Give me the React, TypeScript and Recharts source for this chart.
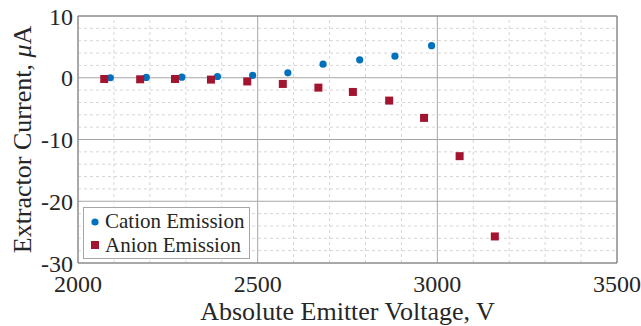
import React from 'react';
import { ScatterChart, Scatter, XAxis, YAxis, CartesianGrid, ReferenceLine, Legend } from 'recharts';

const seriesNames = ['Cation Emission', 'Anion Emission'];
const cationVoltage = [2090, 2190, 2289, 2388, 2486, 2584, 2682, 2784, 2882, 2984];
const cationCurrent = [0.0, 0.05, 0.1, 0.2, 0.4, 0.8, 2.2, 2.9, 3.5, 5.2];
const anionVoltage = [2073, 2173, 2270, 2370, 2471, 2570, 2669, 2765, 2866, 2963, 3062, 3160];
const anionCurrent = [-0.2, -0.25, -0.2, -0.3, -0.6, -1.0, -1.6, -2.3, -3.7, -6.5, -12.7, -25.7];

const xTicks = [2000, 2500, 3000, 3500];
const yTicks = [-30, -20, -10, 0, 10];
const xMinor = [2100, 2200, 2300, 2400, 2600, 2700, 2800, 2900, 3100, 3200, 3300, 3400];
const yMinor = [-28, -26, -24, -22, -18, -16, -14, -12, -8, -6, -4, -2, 2, 4, 6, 8];

const cationData = cationVoltage.map((v, i) => ({ x: v, y: cationCurrent[i] }));
const anionData = anionVoltage.map((v, i) => ({ x: v, y: anionCurrent[i] }));

const FONT = '"Liberation Serif", "Times New Roman", serif';
const BLUE = '#0072BD';
const RED = '#A2142F';
const FRAME = '#7f7f7f';
const MAJOR = '#a6a6a6';
const MINOR = '#d6d6d6';

const Circle = (props: any) => <circle cx={props.cx} cy={props.cy} r={3.6} fill={BLUE} />;
const Square = (props: any) => <rect x={props.cx - 4} y={props.cy - 4} width={8} height={8} fill={RED} />;

const YLabel = (props: any) => {
  const vb = props.viewBox || { x: 0, y: 16, width: 78, height: 247 };
  const x = vb.x + 22;
  const y = vb.y + vb.height / 2;
  return (
    <text x={x} y={y} transform={`rotate(-90, ${x}, ${y})`} textAnchor="middle" dominantBaseline="central"
      fontFamily={FONT} fontSize={26} fill="#262626">
      Extractor Current, <tspan fontStyle="italic">μ</tspan>A
    </text>
  );
};

const LegendBox = () => {
  return (
    <div style={{ width: 165, height: 50, border: `1px solid ${MAJOR}`, background: '#fff', fontFamily: FONT, fontSize: 21, color: '#262626', boxSizing: 'content-box' }}>
      {seriesNames.map((name, i) => (
        <div key={name} style={{ display: 'flex', alignItems: 'center', height: 23.5, marginTop: i === 0 ? 2 : 0, lineHeight: '23px' }}>
          <svg width={21} height={20} style={{ flex: 'none' }}>
            {i === 0 ? <circle cx={11} cy={10} r={3.6} fill={BLUE} /> : <rect x={7} y={6} width={8} height={8} fill={RED} />}
          </svg>
          <span style={{ whiteSpace: 'nowrap' }}>{name}</span>
        </div>
      ))}
    </div>
  );
};

export default function App() {
  return (
    <div style={{ position: 'absolute', left: 0, top: 0, width: 641, height: 326, background: '#fff' }}>
      <ScatterChart width={641} height={326} margin={{ top: 16, right: 24, left: 0, bottom: 0 }}>
        <CartesianGrid stroke={MAJOR} strokeWidth={1} />
        {xMinor.map((v) => (
          <ReferenceLine key={`xm${v}`} x={v} stroke={MINOR} strokeDasharray="3 3" />
        ))}
        {yMinor.map((v) => (
          <ReferenceLine key={`ym${v}`} y={v} stroke={MINOR} strokeDasharray="3 3" />
        ))}
        <ReferenceLine y={10} stroke={FRAME} />
        <ReferenceLine x={3500} stroke={FRAME} />
        <XAxis
          type="number"
          dataKey="x"
          domain={[2000, 3500]}
          ticks={xTicks}
          allowDataOverflow
          height={63}
          tickLine={false}
          tickSize={0}
          tickMargin={12}
          axisLine={{ stroke: FRAME }}
          tick={{ fontFamily: FONT, fontSize: 24, fill: '#262626' }}
          label={{ value: 'Absolute Emitter Voltage, V', position: 'insideBottom', offset: 6, style: { fontFamily: FONT, fontSize: 26, fill: '#262626' } }}
        />
        <YAxis
          type="number"
          dataKey="y"
          domain={[-30, 10]}
          ticks={yTicks}
          allowDataOverflow
          width={78}
          tickLine={false}
          tickSize={0}
          tickMargin={5}
          axisLine={{ stroke: FRAME }}
          tick={{ fontFamily: FONT, fontSize: 24, fill: '#262626' }}
          label={<YLabel />}
        />
        <Legend
          layout="vertical"
          align="center"
          verticalAlign="middle"
          content={<LegendBox />}
          wrapperStyle={{ position: 'absolute', left: 83, top: 207, width: 'auto', height: 'auto' }}
        />
        <Scatter name={seriesNames[0]} data={cationData} fill={BLUE} shape={<Circle />} isAnimationActive={false} />
        <Scatter name={seriesNames[1]} data={anionData} fill={RED} shape={<Square />} isAnimationActive={false} />
      </ScatterChart>
    </div>
  );
}
